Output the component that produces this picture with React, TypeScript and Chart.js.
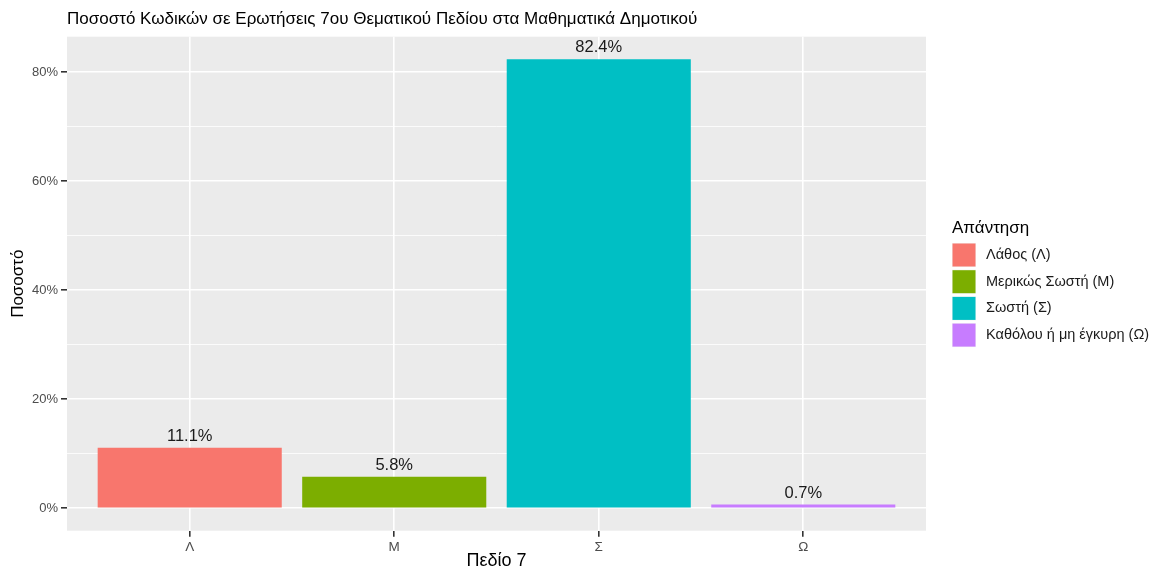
import React, { useEffect, useRef } from "react";
import { Chart, registerables } from "chart.js";

Chart.register(...registerables);

const TITLE = "Ποσοστό Κωδικών σε Ερωτήσεις 7ου Θεματικού Πεδίου στα Μαθηματικά Δημοτικού";
const X_TITLE = "Πεδίο 7";
const Y_TITLE = "Ποσοστό";
const LEGEND_TITLE = "Απάντηση";
const categories = ["Λ", "Μ", "Σ", "Ω"];
const legendLabels = ["Λάθος (Λ)", "Μερικώς Σωστή (Μ)", "Σωστή (Σ)", "Καθόλου ή μη έγκυρη (Ω)"];
const values = [11.1, 5.8, 82.4, 0.7];
const colors = ["#F8766D", "#7CAE00", "#00BFC4", "#C77CFF"];
const yMajorTicks = [0, 20, 40, 60, 80];
const yMinorTicks = [10, 30, 50, 70];

const FONT = "'Liberation Sans', Arial, Helvetica, sans-serif";

const W = 1151;
const H = 569;
const PANEL_LEFT = 67;
const PANEL_RIGHT = 926;
const PANEL_TOP = 36.7;
const PANEL_BOTTOM = 530.7;

const maxVal = Math.max(...values);
const yMin = -maxVal * 0.05;
const yMax = maxVal * 1.05;

const panelPlugin = {
  id: "panelBg",
  beforeDraw(chart: any) {
    const { ctx, chartArea } = chart;
    ctx.save();
    ctx.fillStyle = "#EBEBEB";
    ctx.fillRect(chartArea.left, chartArea.top, chartArea.right - chartArea.left, chartArea.bottom - chartArea.top);
    ctx.restore();
  },
};

const labelPlugin = {
  id: "barLabels",
  afterDatasetsDraw(chart: any) {
    const { ctx } = chart;
    const meta = chart.getDatasetMeta(0);
    ctx.save();
    ctx.font = `16.5px ${FONT}`;
    ctx.fillStyle = "#1A1A1A";
    ctx.textAlign = "center";
    ctx.textBaseline = "bottom";
    meta.data.forEach((el: any, i: number) => {
      ctx.fillText(values[i].toFixed(1) + "%", el.x, el.y - 3);
    });
    ctx.restore();
  },
};

const titleLegendPlugin = {
  id: "titleLegend",
  afterDraw(chart: any) {
    const { ctx, chartArea } = chart;
    ctx.save();
    // title
    ctx.font = `17px ${FONT}`;
    ctx.fillStyle = "#000000";
    ctx.textAlign = "left";
    ctx.textBaseline = "middle";
    ctx.fillText(TITLE, chartArea.left, 19.5);
    // legend
    const lx = chartArea.right + 26;
    ctx.font = `17px ${FONT}`;
    ctx.fillStyle = "#000000";
    ctx.fillText(LEGEND_TITLE, lx, 228);
    const keyTop = 243;
    const keySize = 24;
    const step = 26.7;
    legendLabels.forEach((lab, i) => {
      const y = keyTop + i * step;
      ctx.fillStyle = "#F2F2F2";
      ctx.fillRect(lx, y, keySize, keySize);
      ctx.fillStyle = colors[i];
      ctx.fillRect(lx + 0.5, y + 0.5, keySize - 1, keySize - 1);
      ctx.font = `14.5px ${FONT}`;
      ctx.fillStyle = "#1A1A1A";
      ctx.fillText(lab, lx + 34, y + keySize / 2);
    });
    ctx.restore();
  },
};

export default function App() {
  const ref = useRef<HTMLCanvasElement | null>(null);
  useEffect(() => {
    if (!ref.current) return;
    const chart = new Chart(ref.current, {
      type: "bar",
      data: {
        datasets: [
          {
            data: categories.map((c, i) => ({ x: i + 1, y: values[i] })),
            backgroundColor: colors,
            borderWidth: 0,
            barPercentage: 0.9,
            categoryPercentage: 1.0,
          },
        ],
      },
      options: {
        animation: false,
        responsive: true,
        maintainAspectRatio: false,
        layout: { padding: { top: PANEL_TOP, right: W - PANEL_RIGHT, left: 0, bottom: 0 } },
        plugins: {
          legend: { display: false },
          title: { display: false },
          tooltip: { enabled: false },
        },
        scales: {
          x: {
            type: "linear",
            min: 0.4,
            max: 4.6,
            offset: false,
            afterBuildTicks: (axis: any) => {
              axis.ticks = categories.map((c, i) => ({ value: i + 1 }));
            },
            afterFit: (scale: any) => {
              scale.height = H - PANEL_BOTTOM;
            },
            ticks: {
              autoSkip: false,
              maxRotation: 0,
              padding: 2,
              color: "#4D4D4D",
              font: { family: FONT, size: 13.5 },
              callback: (v: any) => categories[Math.round(v) - 1] ?? "",
            },
            grid: {
              offset: false,
              color: "#FFFFFF",
              lineWidth: 1.6,
              tickColor: "#333333",
              tickLength: 6,
              drawTicks: true,
            },
            border: { display: false },
            title: {
              display: true,
              text: X_TITLE,
              color: "#000000",
              font: { family: FONT, size: 18, lineHeight: 1 },
              padding: { top: 0, bottom: -1 },
            },
          },
          y: {
            type: "linear",
            min: yMin,
            max: yMax,
            afterBuildTicks: (axis: any) => {
              axis.ticks = [...yMajorTicks, ...yMinorTicks].sort((a, b) => a - b).map((v) => ({ value: v }));
            },
            afterFit: (scale: any) => {
              scale.width = PANEL_LEFT;
            },
            ticks: {
              autoSkip: false,
              padding: 3,
              color: "#4D4D4D",
              font: { family: FONT, size: 13 },
              callback: (v: any) => (yMajorTicks.includes(v) ? v + "%" : ""),
            },
            grid: {
              color: "#FFFFFF",
              lineWidth: (ctx: any) => (yMajorTicks.includes(ctx.tick?.value) ? 1.6 : 0.8),
              tickColor: (ctx: any) => (yMajorTicks.includes(ctx.tick?.value) ? "#333333" : "rgba(0,0,0,0)"),
              tickLength: 6,
              drawTicks: true,
            },
            border: { display: false },
            title: {
              display: true,
              text: Y_TITLE,
              color: "#000000",
              font: { family: FONT, size: 17, lineHeight: 1 },
              padding: { top: 9.5, bottom: 0 },
            },
          },
        },
      },
      plugins: [panelPlugin, labelPlugin, titleLegendPlugin],
    } as any);
    return () => chart.destroy();
  }, []);
  return (
    <div style={{ position: "fixed", left: 0, top: 0, width: W, height: H, background: "#FFFFFF" }}>
      <canvas ref={ref} />
    </div>
  );
}
